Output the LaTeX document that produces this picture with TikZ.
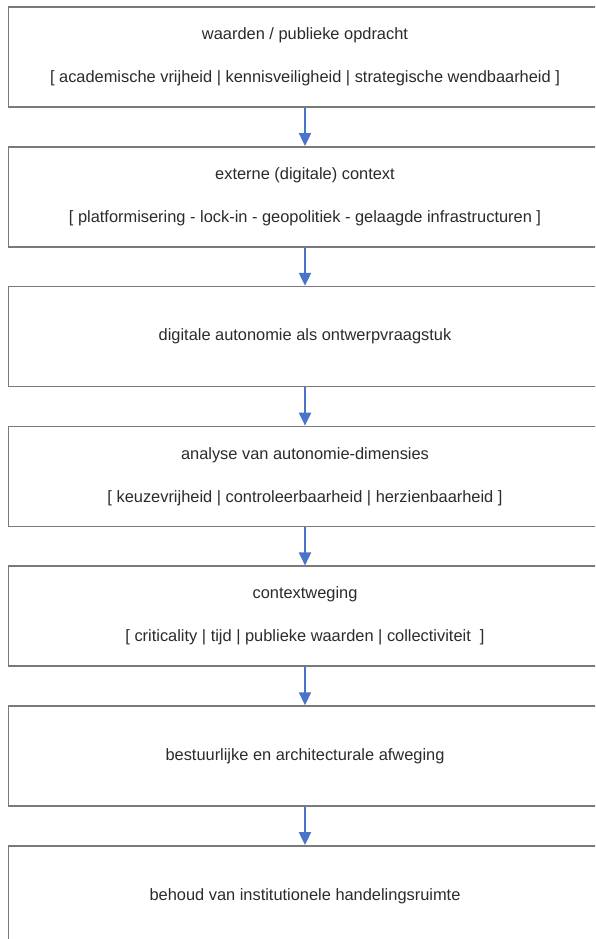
\documentclass[tikz,border=0pt]{standalone}
\usepackage{fontspec}
\setmainfont{Liberation Sans}
\usepackage{tikz}
\usetikzlibrary{arrows.meta,positioning}
\definecolor{frame}{HTML}{7A7A7A}
\definecolor{ink}{HTML}{2B2B2B}
\definecolor{flow}{HTML}{4A74C9}

\tikzset{
  stage/.style={draw=frame,line width=1.5pt,minimum width=593pt,minimum height=100pt,
    inner sep=0pt,align=center,text=ink,font=\fontsize{16.4}{20}\selectfont},
  flowarrow/.style={flow,line width=2pt,-{Triangle[length=13pt,width=12pt]}}
}

\begin{document}
\begin{tikzpicture}[x=1pt,y=-1pt,node distance=38.3pt]
\useasboundingbox (0,0) rectangle (595,939);
\clip (0,0) rectangle (595,939);
\fill[white] (0,0) rectangle (595,939);
\node[stage] (waarden) at (305,57)
  {waarden / publieke opdracht\\[23pt]
   [ academische vrijheid | kennisveiligheid | strategische wendbaarheid ]};
\node[stage,below=of waarden] (context)
  {externe (digitale) context\\[23pt]
   [ platformisering - lock-in - geopolitiek - gelaagde infrastructuren ]};
\node[stage,below=of context] (vraagstuk) {digitale autonomie als ontwerpvraagstuk};
\node[stage,below=of vraagstuk] (dimensies)
  {analyse van autonomie-dimensies\\[23pt]
   [ keuzevrijheid | controleerbaarheid | herzienbaarheid ]};
\node[stage,below=of dimensies] (weging)
  {contextweging\\[23pt]
   [ criticality | tijd | publieke waarden | collectiviteit~ ]};
\node[stage,below=of weging] (afweging) {bestuurlijke en architecturale afweging};
\node[stage,below=of afweging] (ruimte) {behoud van institutionele handelingsruimte};
% stappen
\foreach \a/\b in {waarden/context,context/vraagstuk,vraagstuk/dimensies,
  dimensies/weging,weging/afweging,afweging/ruimte}
  \draw[flowarrow] (\a.south) -- (\b.north);
\end{tikzpicture}
\end{document}
